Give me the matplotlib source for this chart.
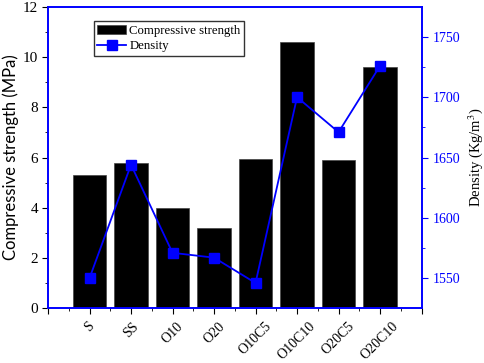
import matplotlib
matplotlib.use("Agg")
import matplotlib.pyplot as plt
import numpy as np
from matplotlib.ticker import MultipleLocator

samples = ["S", "SS", "O10", "O20", "O10C5", "O10C10", "O20C5", "O20C10"]
strength = [5.3, 5.8, 4.0, 3.2, 5.93, 10.6, 5.89, 9.6]
density = [1550, 1644, 1571, 1567, 1546, 1700, 1671, 1726]

plt.rcParams["font.family"] = ["Liberation Serif", "DejaVu Serif"]
plt.rcParams["font.size"] = 10
plt.rcParams["mathtext.fontset"] = "stix"

fig = plt.figure(figsize=(4.84, 3.63), dpi=100)
ax = fig.add_axes([0.0992, 0.1523, 0.7718, 0.8276])
x = np.arange(len(samples))
bars = ax.bar(x, strength, width=0.8, color="black", edgecolor="#444444",
              linewidth=0.5, label="Compressive strength")
ax.set_xlim(-1, 8)
ax.set_ylim(0, 12)
ax.set_xticks(np.arange(-1, 9))
ax.set_xticklabels([""] + samples + [""], rotation=45, ha="center",
                   fontsize=10)
ax.xaxis.set_minor_locator(MultipleLocator(0.5))
ax.yaxis.set_major_locator(MultipleLocator(2))
ax.yaxis.set_minor_locator(MultipleLocator(1))
ax.tick_params(which="both", direction="out")
ax.tick_params(which="major", length=4.5)
ax.tick_params(which="minor", length=2.5)
ax.tick_params(axis="x", which="major", pad=4)
ax.tick_params(axis="y", labelsize=11, pad=2.5)
ax.set_ylabel("Compressive strength (MPa)", fontsize=12, family="Lato",
              labelpad=3)
for s in ax.spines.values():
    s.set_color("blue")
    s.set_linewidth(1.2)

ax2 = ax.twinx()
line, = ax2.plot(x, density, color="blue", marker="s", markersize=7,
                 linewidth=1.3, label="Density")
ax2.set_ylim(1525.5, 1774.5)
ax2.yaxis.set_major_locator(MultipleLocator(50))
ax2.yaxis.set_minor_locator(MultipleLocator(25))
ax2.tick_params(which="both", direction="out", colors="blue", labelsize=10)
ax2.tick_params(which="major", length=4.5)
ax2.tick_params(which="minor", length=2.5)
ax2.set_ylabel("Density (Kg/m$^3$)", fontsize=10.5, color="black",
               labelpad=4)
for s in ax2.spines.values():
    s.set_color("blue")
    s.set_linewidth(1.2)

ax.legend([bars, line], ["Compressive strength", "Density"],
          loc="upper left", bbox_to_anchor=(0.105, 0.975), fontsize=9.2,
          frameon=True, fancybox=False, edgecolor="black",
          handlelength=2.2, borderpad=0.3, labelspacing=0.25,
          handletextpad=0.3)

fig.savefig("out.png", dpi=100)
